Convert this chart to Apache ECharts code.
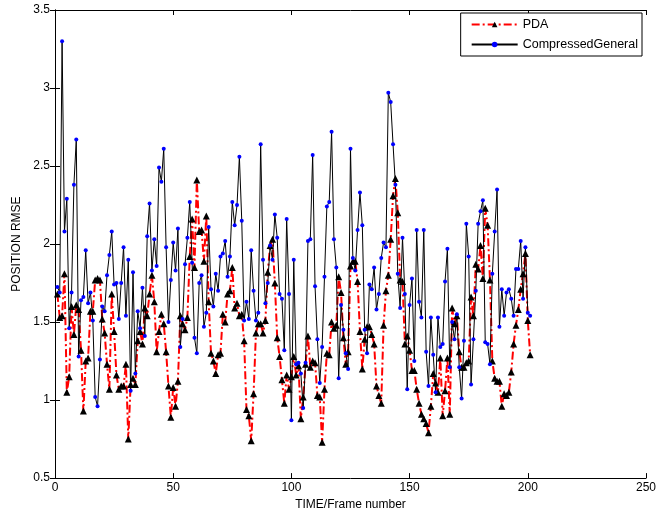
<!DOCTYPE html>
<html>
<head>
<meta charset="utf-8">
<script src="https://cdn.jsdelivr.net/npm/echarts@6/dist/echarts.min.js"></script>
<style>html,body{margin:0;padding:0;background:#fff;}#c{width:659px;height:516px;}</style>
</head>
<body>
<div id="c"></div>
<script>
var pdaValues = [1.68,1.53,1.54,1.81,1.05,1.15,1.60,1.42,1.61,1.58,
1.32,0.93,1.25,1.27,1.57,1.57,1.77,1.78,1.77,1.52,
1.43,1.23,1.07,1.68,1.44,1.16,1.07,1.09,1.09,1.23,
0.75,1.10,1.14,1.10,1.38,1.44,1.36,1.59,1.54,1.68,
1.80,1.63,1.31,1.44,1.55,1.49,1.31,1.09,0.89,1.08,
0.96,1.12,1.54,1.49,1.45,1.53,1.92,2.16,1.85,2.41,
2.08,2.09,1.89,2.18,1.63,1.30,1.25,1.17,1.29,1.30,
1.55,1.50,1.68,1.70,1.85,1.59,1.62,1.54,1.55,1.38,
0.94,0.90,0.74,1.04,1.43,1.49,1.49,1.43,1.51,1.82,
1.99,2.03,1.75,1.40,1.28,1.13,0.98,1.16,1.07,1.15,
1.28,1.16,1.22,0.88,1.02,1.23,1.41,1.21,1.25,1.24,
1.03,1.02,0.73,1.07,1.30,1.29,1.50,1.46,1.48,1.79,
1.69,1.40,1.23,1.31,1.86,1.89,1.89,1.76,1.44,1.20,
1.39,1.47,1.47,1.42,1.36,1.09,1.03,0.98,1.48,1.70,
1.80,2.03,2.31,2.42,2.20,1.77,1.76,1.36,1.41,1.32,
1.19,1.19,1.07,0.98,0.91,0.88,0.85,0.79,0.96,1.17,
1.11,1.05,1.27,0.90,1.06,1.27,0.91,1.59,1.49,1.54,
1.31,1.21,1.21,1.24,1.25,1.66,1.54,1.87,1.84,1.99,
1.78,2.23,2.12,1.77,1.25,1.14,1.12,1.12,0.96,1.04,
1.03,1.05,1.18,1.36,1.48,1.58,1.71,1.81,1.94,1.51,
1.29];
var compressedValues = [1.725,1.69,3.30,2.08,2.29,1.46,1.69,2.38,2.67,1.28,
1.64,1.66,1.96,1.62,1.69,1.51,1.02,0.96,1.26,1.60,
1.57,1.80,1.93,2.08,1.74,1.75,1.52,1.75,1.98,1.54,
1.90,1.06,1.82,1.17,1.57,1.46,1.72,1.41,2.05,2.26,
1.83,2.03,1.86,2.49,2.40,2.61,1.98,1.50,1.77,2.01,
1.83,2.10,1.34,1.52,1.87,2.04,2.27,1.88,1.40,1.30,
1.75,1.80,1.47,1.56,2.11,1.71,1.60,1.81,1.70,1.92,
1.94,2.02,1.79,1.92,2.27,2.12,2.25,2.56,2.15,1.51,
1.63,1.52,1.96,1.70,1.51,1.56,2.64,1.90,1.62,1.75,
1.99,1.90,2.19,2.04,1.68,1.65,1.32,2.16,1.68,0.87,
1.90,1.23,1.24,1.17,0.95,1.24,2.02,2.03,2.57,1.73,
1.39,1.11,1.34,1.79,2.24,2.27,2.72,2.03,1.85,1.14,
1.61,1.45,1.30,1.20,2.61,1.91,1.83,2.09,2.33,2.12,
1.45,1.30,1.74,1.71,1.85,1.58,1.68,1.91,2.01,1.98,
2.97,2.91,2.64,2.38,1.81,1.59,2.04,1.68,1.07,1.61,
1.78,1.25,2.09,1.63,1.53,2.09,1.31,1.09,1.53,1.29,
1.05,1.53,1.34,1.36,1.76,1.97,1.21,1.50,1.39,1.55,
1.21,1.01,1.38,2.13,1.92,1.10,1.39,1.70,2.13,2.21,
2.28,1.37,1.36,1.23,1.81,2.08,2.35,1.47,1.71,1.54,
1.69,1.71,1.65,1.54,1.84,1.84,2.02,1.65,1.98,1.56,
1.54];
var frames = pdaValues.map(function(_, i){ return i + 1; });
var seriesNames = ['PDA', 'CompressedGeneral'];
var xTicks = [0, 50, 100, 150, 200, 250];
var yTicks = [0.5, 1, 1.5, 2, 2.5, 3, 3.5];

var font = 'Liberation Sans, Helvetica, Arial, sans-serif';
function pairs(vals){ return vals.map(function(v, i){ return [frames[i], v]; }); }
var axLine = {show:true, lineStyle:{color:'#000', width:1}};
var axTick = {show:true, inside:true, length:5, lineStyle:{color:'#000'}};

var chart = echarts.init(document.getElementById('c'), null, {renderer:'canvas'});
chart.setOption({
  animation:false,
  backgroundColor:'#fff',
  textStyle:{fontFamily:font},
  grid:{left:55, right:10, top:10, bottom:36},
  legend:{
    orient:'vertical', right:17, top:13,
    data:seriesNames,
    itemWidth:46, itemHeight:7, itemGap:7,
    borderColor:'#000', borderWidth:1, borderRadius:0,
    padding:[5, 4, 5, 10],
    backgroundColor:'#fff',
    textStyle:{fontSize:12.5, color:'#000', fontFamily:font}
  },
  xAxis:[{
    type:'value', min:xTicks[0], max:xTicks[xTicks.length-1], interval:50,
    axisLine:axLine, axisTick:axTick, splitLine:{show:false},
    axisLabel:{color:'#000', fontSize:12, margin:4, fontFamily:font},
    name:'TIME/Frame number', nameLocation:'middle', nameGap:19,
    nameTextStyle:{color:'#000', fontSize:12, fontFamily:font}
  },{
    type:'value', position:'top', min:xTicks[0], max:xTicks[xTicks.length-1], interval:50,
    axisLine:axLine, axisTick:axTick, splitLine:{show:false}, axisLabel:{show:false}
  }],
  yAxis:[{
    type:'value', min:yTicks[0], max:yTicks[yTicks.length-1], interval:0.5,
    axisLine:axLine, axisTick:axTick, splitLine:{show:false},
    axisLabel:{color:'#000', fontSize:12, margin:5, fontFamily:font},
    name:'POSITION RMSE', nameLocation:'middle', nameGap:31, nameRotate:90,
    nameTextStyle:{color:'#000', fontSize:12, fontFamily:font}
  },{
    type:'value', position:'right', min:yTicks[0], max:yTicks[yTicks.length-1], interval:0.5,
    axisLine:axLine, axisTick:axTick, splitLine:{show:false}, axisLabel:{show:false}
  }],
  series:[{
    name:seriesNames[0], type:'line', data:pairs(pdaValues),
    symbol:'triangle', symbolSize:7,
    itemStyle:{color:'#000'},
    lineStyle:{color:'#ff0000', width:2, type:[8,3,2,3]},
    z:2
  },{
    name:seriesNames[1], type:'line', data:pairs(compressedValues),
    symbol:'circle', symbolSize:4,
    itemStyle:{color:'#0000ff'},
    lineStyle:{color:'#000', width:1},
    z:3
  }]
});
</script>
</body>
</html>
